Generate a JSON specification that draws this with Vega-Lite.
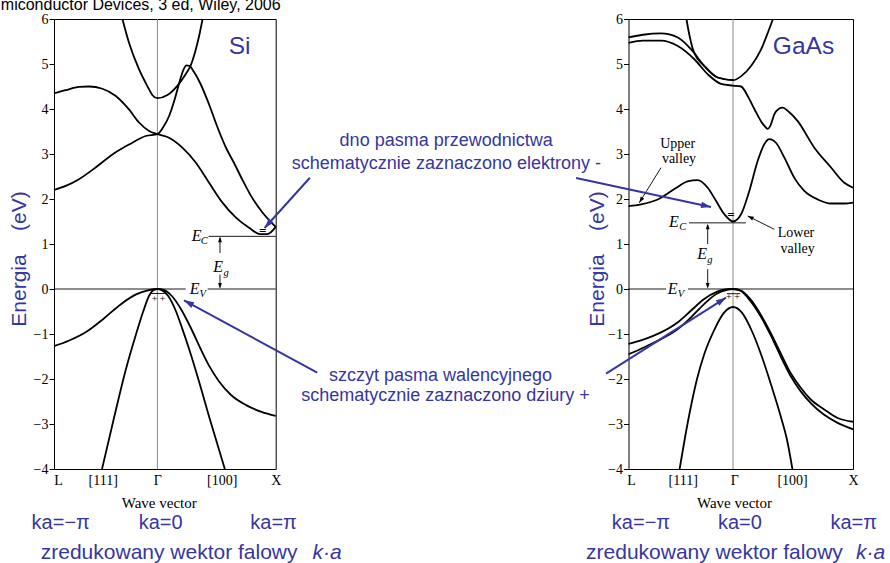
{
 "$schema": "https://vega.github.io/schema/vega-lite/v6.json",
 "background": "white",
 "padding": {"left": 0, "top": -4, "right": 0, "bottom": 0},
 "bounds": "flush",
 "spacing": 352.5,
 "config": {
  "view": {"stroke": "black", "strokeWidth": 1},
  "axis": {"grid": false, "domain": false, "labelColor": "black", "titleColor": "black", "labelFont": "Liberation Serif", "titleFont": "Liberation Serif", "titleFontWeight": "normal", "labelFlush": false, "labelOverlap": false}
 },
 "datasets": {
  "siBands": [
   {"b":"C1","k":-0.296,"E":6.0},{"b":"C1","k":-0.24,"E":5.47},{"b":"C1","k":-0.155,"E":4.88},{"b":"C1","k":-0.085,"E":4.51},{"b":"C1","k":-0.04,"E":4.3},{"b":"C1","k":0,"E":4.24},{"b":"C1","k":0.085,"E":4.31},{"b":"C1","k":0.17,"E":4.52},{"b":"C1","k":0.24,"E":4.78},{"b":"C1","k":0.28,"E":4.96},{"b":"C1","k":0.32,"E":5.28},{"b":"C1","k":0.355,"E":5.65},{"b":"C1","k":0.382,"E":6.0},
   {"b":"A","k":-0.874,"E":4.35},{"b":"A","k":-0.775,"E":4.42},{"b":"A","k":-0.663,"E":4.49},{"b":"A","k":-0.578,"E":4.5},{"b":"A","k":-0.465,"E":4.45},{"b":"A","k":-0.352,"E":4.29},{"b":"A","k":-0.24,"E":3.99},{"b":"A","k":-0.155,"E":3.7},{"b":"A","k":-0.07,"E":3.51},{"b":"A","k":0,"E":3.44},{"b":"A","k":0.098,"E":3.36},{"b":"A","k":0.211,"E":3.14},{"b":"A","k":0.324,"E":2.81},{"b":"A","k":0.437,"E":2.36},{"b":"A","k":0.55,"E":1.92},{"b":"A","k":0.662,"E":1.59},{"b":"A","k":0.775,"E":1.36},{"b":"A","k":0.87,"E":1.22},{"b":"A","k":0.93,"E":1.22},{"b":"A","k":1.0,"E":1.38},
   {"b":"B","k":-0.874,"E":2.2},{"b":"B","k":-0.775,"E":2.29},{"b":"B","k":-0.663,"E":2.44},{"b":"B","k":-0.522,"E":2.7},{"b":"B","k":-0.38,"E":2.99},{"b":"B","k":-0.24,"E":3.21},{"b":"B","k":-0.099,"E":3.4},{"b":"B","k":0,"E":3.44},{"b":"B","k":0.05,"E":3.6},{"b":"B","k":0.1,"E":3.85},{"b":"B","k":0.15,"E":4.25},{"b":"B","k":0.19,"E":4.63},{"b":"B","k":0.22,"E":4.87},{"b":"B","k":0.245,"E":4.97},{"b":"B","k":0.27,"E":4.96},{"b":"B","k":0.31,"E":4.82},{"b":"B","k":0.366,"E":4.55},{"b":"B","k":0.437,"E":4.1},{"b":"B","k":0.507,"E":3.6},{"b":"B","k":0.578,"E":3.15},{"b":"B","k":0.648,"E":2.8},{"b":"B","k":0.72,"E":2.42},{"b":"B","k":0.789,"E":2.08},{"b":"B","k":0.888,"E":1.7},{"b":"B","k":1.0,"E":1.38},
   {"b":"V1","k":-0.874,"E":-1.27},{"b":"V1","k":-0.75,"E":-1.15},{"b":"V1","k":-0.6,"E":-0.95},{"b":"V1","k":-0.45,"E":-0.65},{"b":"V1","k":-0.3,"E":-0.32},{"b":"V1","k":-0.18,"E":-0.12},{"b":"V1","k":-0.08,"E":-0.03},{"b":"V1","k":0,"E":0},{"b":"V1","k":0.04,"E":-0.01},{"b":"V1","k":0.12,"E":-0.15},{"b":"V1","k":0.2,"E":-0.45},{"b":"V1","k":0.28,"E":-0.85},{"b":"V1","k":0.36,"E":-1.3},{"b":"V1","k":0.44,"E":-1.72},{"b":"V1","k":0.52,"E":-2.05},{"b":"V1","k":0.62,"E":-2.35},{"b":"V1","k":0.75,"E":-2.58},{"b":"V1","k":0.88,"E":-2.73},{"b":"V1","k":1.0,"E":-2.82},
   {"b":"V2","k":-0.468,"E":-4.0},{"b":"V2","k":-0.37,"E":-2.9},{"b":"V2","k":-0.27,"E":-1.82},{"b":"V2","k":-0.18,"E":-1.0},{"b":"V2","k":-0.12,"E":-0.5},{"b":"V2","k":-0.07,"E":-0.15},{"b":"V2","k":-0.03,"E":-0.02},{"b":"V2","k":0,"E":0},{"b":"V2","k":0.04,"E":-0.03},{"b":"V2","k":0.09,"E":-0.15},{"b":"V2","k":0.15,"E":-0.45},{"b":"V2","k":0.21,"E":-0.88},{"b":"V2","k":0.27,"E":-1.35},{"b":"V2","k":0.34,"E":-1.95},{"b":"V2","k":0.45,"E":-2.95},{"b":"V2","k":0.57,"E":-4.0}
  ],
  "gaBands": [
   {"b":"C1","k":-0.871,"E":1.84},{"b":"C1","k":-0.767,"E":1.88},{"b":"C1","k":-0.628,"E":1.99},{"b":"C1","k":-0.489,"E":2.22},{"b":"C1","k":-0.378,"E":2.39},{"b":"C1","k":-0.294,"E":2.42},{"b":"C1","k":-0.211,"E":2.25},{"b":"C1","k":-0.142,"E":1.96},{"b":"C1","k":-0.072,"E":1.66},{"b":"C1","k":0,"E":1.5},{"b":"C1","k":0.067,"E":1.66},{"b":"C1","k":0.136,"E":2.18},{"b":"C1","k":0.206,"E":2.85},{"b":"C1","k":0.261,"E":3.22},{"b":"C1","k":0.303,"E":3.33},{"b":"C1","k":0.358,"E":3.25},{"b":"C1","k":0.428,"E":2.92},{"b":"C1","k":0.511,"E":2.47},{"b":"C1","k":0.594,"E":2.18},{"b":"C1","k":0.706,"E":1.99},{"b":"C1","k":0.817,"E":1.9},{"b":"C1","k":0.928,"E":1.9},{"b":"C1","k":1.0,"E":1.92},
   {"b":"C2","k":-0.871,"E":5.47},{"b":"C2","k":-0.75,"E":5.52},{"b":"C2","k":-0.6,"E":5.52},{"b":"C2","k":-0.46,"E":5.4},{"b":"C2","k":-0.32,"E":5.1},{"b":"C2","k":-0.21,"E":4.77},{"b":"C2","k":-0.1,"E":4.56},{"b":"C2","k":0,"E":4.52},{"b":"C2","k":0.067,"E":4.5},{"b":"C2","k":0.122,"E":4.29},{"b":"C2","k":0.178,"E":4.0},{"b":"C2","k":0.233,"E":3.73},{"b":"C2","k":0.27,"E":3.6},{"b":"C2","k":0.289,"E":3.56},{"b":"C2","k":0.31,"E":3.62},{"b":"C2","k":0.344,"E":3.88},{"b":"C2","k":0.38,"E":4.0},{"b":"C2","k":0.414,"E":4.03},{"b":"C2","k":0.46,"E":3.95},{"b":"C2","k":0.539,"E":3.73},{"b":"C2","k":0.678,"E":3.14},{"b":"C2","k":0.817,"E":2.7},{"b":"C2","k":0.928,"E":2.36},{"b":"C2","k":1.0,"E":2.25},
   {"b":"C3","k":-0.871,"E":5.59},{"b":"C3","k":-0.75,"E":5.65},{"b":"C3","k":-0.6,"E":5.68},{"b":"C3","k":-0.46,"E":5.59},{"b":"C3","k":-0.35,"E":5.33},{"b":"C3","k":-0.24,"E":4.96},{"b":"C3","k":-0.128,"E":4.7},{"b":"C3","k":0,"E":4.64},
   {"b":"C4","k":-0.388,"E":6.0},{"b":"C4","k":-0.375,"E":5.8},{"b":"C4","k":-0.36,"E":5.6},{"b":"C4","k":-0.34,"E":5.38},{"b":"C4","k":-0.32,"E":5.23},{"b":"C4","k":-0.24,"E":4.96},{"b":"C4","k":-0.128,"E":4.7},{"b":"C4","k":0,"E":4.64},{"b":"C4","k":0.069,"E":4.73},{"b":"C4","k":0.152,"E":4.96},{"b":"C4","k":0.235,"E":5.33},{"b":"C4","k":0.291,"E":5.7},{"b":"C4","k":0.333,"E":6.0},
   {"b":"V1","k":-0.871,"E":-1.22},{"b":"V1","k":-0.743,"E":-1.12},{"b":"V1","k":-0.604,"E":-0.97},{"b":"V1","k":-0.465,"E":-0.75},{"b":"V1","k":-0.354,"E":-0.49},{"b":"V1","k":-0.243,"E":-0.23},{"b":"V1","k":-0.132,"E":-0.06},{"b":"V1","k":-0.049,"E":-0.005},{"b":"V1","k":0,"E":0},{"b":"V1","k":0.062,"E":-0.03},{"b":"V1","k":0.146,"E":-0.23},{"b":"V1","k":0.229,"E":-0.56},{"b":"V1","k":0.313,"E":-0.97},{"b":"V1","k":0.396,"E":-1.42},{"b":"V1","k":0.479,"E":-1.86},{"b":"V1","k":0.563,"E":-2.19},{"b":"V1","k":0.646,"E":-2.45},{"b":"V1","k":0.757,"E":-2.67},{"b":"V1","k":0.868,"E":-2.86},{"b":"V1","k":1.0,"E":-2.95},
   {"b":"V2","k":-0.871,"E":-1.45},{"b":"V2","k":-0.743,"E":-1.3},{"b":"V2","k":-0.604,"E":-1.12},{"b":"V2","k":-0.465,"E":-0.9},{"b":"V2","k":-0.354,"E":-0.64},{"b":"V2","k":-0.243,"E":-0.34},{"b":"V2","k":-0.132,"E":-0.1},{"b":"V2","k":-0.049,"E":-0.02},{"b":"V2","k":0,"E":0},{"b":"V2","k":0.062,"E":-0.04},{"b":"V2","k":0.146,"E":-0.27},{"b":"V2","k":0.229,"E":-0.6},{"b":"V2","k":0.313,"E":-1.02},{"b":"V2","k":0.396,"E":-1.49},{"b":"V2","k":0.479,"E":-1.93},{"b":"V2","k":0.563,"E":-2.27},{"b":"V2","k":0.646,"E":-2.53},{"b":"V2","k":0.757,"E":-2.79},{"b":"V2","k":0.868,"E":-2.97},{"b":"V2","k":1.0,"E":-3.12},
   {"b":"V3","k":-0.445,"E":-4.0},{"b":"V3","k":-0.4,"E":-3.3},{"b":"V3","k":-0.35,"E":-2.6},{"b":"V3","k":-0.3,"E":-2.0},{"b":"V3","k":-0.24,"E":-1.45},{"b":"V3","k":-0.16,"E":-0.93},{"b":"V3","k":-0.076,"E":-0.53},{"b":"V3","k":0,"E":-0.4},{"b":"V3","k":0.076,"E":-0.53},{"b":"V3","k":0.16,"E":-0.95},{"b":"V3","k":0.24,"E":-1.5},{"b":"V3","k":0.32,"E":-2.15},{"b":"V3","k":0.4,"E":-2.85},{"b":"V3","k":0.45,"E":-3.35},{"b":"V3","k":0.495,"E":-4.0}
  ],
  "siRule": [
   {"g":"gam","id":"g","k":0,"E":-4,"k2":0,"E2":6},
   {"g":"lvl","id":"ev1","k":-0.874,"E":0,"k2":0.239,"E2":0},
   {"g":"lvl","id":"ev2","k":0.425,"E":0,"k2":1,"E2":0},
   {"g":"lvl","id":"ec","k":0.433,"E":1.17,"k2":1,"E2":1.17},
   {"g":"lvl","id":"eg1","k":0.529,"E":0.8,"k2":0.529,"E2":1.14},
   {"g":"lvl","id":"eg2","k":0.529,"E":0.32,"k2":0.529,"E2":0.03},
   {"g":"lvl","id":"h","k":-0.055,"E":-0.1,"k2":0.06,"E2":-0.1}
  ],
  "siArrow": [
   {"id":"a1","k":1.289,"E":2.473,"k2":0.906,"E2":1.356},
   {"id":"a3","k":1.351,"E":-1.86,"k2":0.225,"E2":-0.251}
  ],
  "siTip": [{"d":"up","k":0.529,"E":1.16},{"d":"down","k":0.529,"E":0.01}],
  "siText": [
   {"g":"src","t":"miconductor Devices, 3 ed, Wiley, 2006","k":-1.3235,"E":6.2},
   {"g":"name","t":"Si","k":0.695,"E":5.222},
   {"g":"note","t":"dno pasma przewodnictwa","k":2.441,"E":3.289},
   {"g":"note","t":"schematycznie zaznaczono elektrony -","k":2.443,"E":2.771},
   {"g":"note","t":"szczyt pasma walencyjnego","k":2.393,"E":-1.933},
   {"g":"note","t":"schematycznie zaznaczono dziury +","k":2.435,"E":-2.378},
   {"g":"ka","t":"ka=−π","k":-0.817,"E":-5.193},
   {"g":"ka","t":"ka=0","k":0.028,"E":-5.193},
   {"g":"ka","t":"ka=π","k":0.982,"E":-5.193},
   {"g":"red","t":"zredukowany wektor falowy","k":-0.986,"E":-5.86},
   {"g":"redi","t":"k·a","k":1.312,"E":-5.86},
   {"g":"E","t":"E","k":0.332,"E":1.067},
   {"g":"sub","t":"C","k":0.395,"E":1.0},
   {"g":"E","t":"E","k":0.315,"E":-0.1},
   {"g":"sub","t":"V","k":0.383,"E":-0.167},
   {"g":"E","t":"E","k":0.514,"E":0.367},
   {"g":"sub","t":"g","k":0.581,"E":0.289},
   {"g":"sym","t":"+ +","k":0.01,"E":-0.222},
   {"g":"el","t":"=","k":0.89,"E":1.3}
  ],
  "gaRule": [
   {"g":"gam","id":"g","k":0,"E":-4,"k2":0,"E2":6},
   {"g":"lvl","id":"ev1","k":-0.871,"E":0,"k2":-0.558,"E2":0},
   {"g":"lvl","id":"ev2","k":-0.375,"E":0,"k2":1,"E2":0},
   {"g":"lvl","id":"ec","k":-0.367,"E":1.47,"k2":0.108,"E2":1.47},
   {"g":"lvl","id":"eg1","k":-0.211,"E":1.0,"k2":-0.211,"E2":1.42},
   {"g":"lvl","id":"eg2","k":-0.211,"E":0.44,"k2":-0.211,"E2":0.04},
   {"g":"lvl","id":"h","k":-0.05,"E":-0.104,"k2":0.06,"E2":-0.104},
   {"g":"lvl","id":"uv","k":-0.6,"E":2.696,"k2":-0.781,"E2":1.918},
   {"g":"lvl","id":"lv","k":0.344,"E":1.327,"k2":0.1225,"E2":1.622}
  ],
  "gaArrow": [
   {"id":"a2","k":-1.308,"E":2.467,"k2":-0.183,"E2":1.822},
   {"id":"a4","k":-1.058,"E":-1.882,"k2":-0.058,"E2":-0.193}
  ],
  "gaTip": [{"d":"up","k":-0.211,"E":1.45},{"d":"down","k":-0.211,"E":0.01}],
  "gaText": [
   {"g":"name","t":"GaAs","k":0.5875,"E":5.222},
   {"g":"ka","t":"ka=−π","k":-0.767,"E":-5.193},
   {"g":"ka","t":"ka=0","k":0.058,"E":-5.193},
   {"g":"ka","t":"ka=π","k":1.006,"E":-5.193},
   {"g":"red","t":"zredukowany wektor falowy","k":-1.225,"E":-5.86},
   {"g":"redi","t":"k·a","k":1.025,"E":-5.86},
   {"g":"E","t":"E","k":-0.493,"E":1.378},
   {"g":"sub","t":"C","k":-0.419,"E":1.311},
   {"g":"E","t":"E","k":-0.504,"E":-0.104},
   {"g":"sub","t":"V","k":-0.433,"E":-0.178},
   {"g":"E","t":"E","k":-0.258,"E":0.659},
   {"g":"sub","t":"g","k":-0.192,"E":0.578},
   {"g":"val","t":"Upper","k":-0.461,"E":3.222},
   {"g":"val","t":"valley","k":-0.45,"E":2.889},
   {"g":"val","t":"Lower","k":0.525,"E":1.251},
   {"g":"val","t":"valley","k":0.539,"E":0.882},
   {"g":"sym","t":"+ +","k":0.0,"E":-0.18},
   {"g":"el","t":"=","k":-0.017,"E":1.64}
  ]
 },
 "hconcat": [
  {
   "width": 221.7,
   "height": 450,
   "encoding": {
    "x": {"field": "k", "type": "quantitative", "scale": {"domain": [-0.874, 1], "nice": false, "zero": false},
     "axis": {"values": [-0.84, -0.462, 0, 0.543, 1.0], "labelExpr": "datum.value < -0.6 ? 'L' : datum.value < -0.2 ? '[111]' : datum.value < 0.2 ? 'Γ' : datum.value < 0.8 ? '[100]' : 'X'", "ticks": false, "labelFontSize": 14, "labelPadding": 4, "title": "Wave vector", "titleFontSize": 15, "titleX": 104.7, "titleY": 38, "titleBaseline": "alphabetic"}},
    "y": {"field": "E", "type": "quantitative", "scale": {"domain": [-4, 6], "nice": false, "zero": false},
     "axis": {"values": [-4, -3, -2, -1, 0, 1, 2, 3, 4, 5, 6], "tickSize": 5, "tickColor": "black", "labelFontSize": 14, "labelPadding": 1, "title": "Energia\u00a0\u00a0\u00a0\u00a0(eV)", "titleFont": "Liberation Sans", "titleFontSize": 21, "titleColor": "#3636a3", "titleX": -34.8, "titleY": 239.5, "titleBaseline": "middle", "titleAngle": -90}}
   },
   "layer": [
    {"data": {"name": "siRule"}, "transform": [{"filter": "datum.g == 'gam'"}], "mark": {"type": "rule", "color": "#8a8a8a", "strokeWidth": 1}, "encoding": {"x2": {"field": "k2"}, "y2": {"field": "E2"}}},
    {"data": {"name": "siRule"}, "transform": [{"filter": "datum.g == 'lvl'"}], "mark": {"type": "rule", "color": "black", "strokeWidth": 0.9}, "encoding": {"x2": {"field": "k2"}, "y2": {"field": "E2"}}},
    {"data": {"name": "siBands"}, "mark": {"type": "line", "color": "black", "strokeWidth": 1.8, "interpolate": "monotone"}, "encoding": {"detail": {"field": "b"}}},
    {"data": {"name": "siText"}, "transform": [{"filter": "datum.g == 'src'"}], "mark": {"type": "text", "align": "left", "baseline": "alphabetic", "font": "Liberation Sans", "fontSize": 16, "color": "black"}, "encoding": {"text": {"field": "t"}}},
    {"data": {"name": "siText"}, "transform": [{"filter": "datum.g == 'name'"}], "mark": {"type": "text", "align": "center", "baseline": "alphabetic", "font": "Liberation Sans", "fontSize": 24.5, "color": "#3636a3"}, "encoding": {"text": {"field": "t"}}},
    {"data": {"name": "siText"}, "transform": [{"filter": "datum.g == 'note'"}], "mark": {"type": "text", "align": "center", "baseline": "middle", "font": "Liberation Sans", "fontSize": 18, "color": "#3636a3"}, "encoding": {"text": {"field": "t"}}},
    {"data": {"name": "siText"}, "transform": [{"filter": "datum.g == 'ka'"}], "mark": {"type": "text", "align": "center", "baseline": "middle", "font": "Liberation Sans", "fontSize": 20, "color": "#3636a3"}, "encoding": {"text": {"field": "t"}}},
    {"data": {"name": "siText"}, "transform": [{"filter": "datum.g == 'red'"}], "mark": {"type": "text", "align": "left", "baseline": "middle", "font": "Liberation Sans", "fontSize": 21, "color": "#3636a3"}, "encoding": {"text": {"field": "t"}}},
    {"data": {"name": "siText"}, "transform": [{"filter": "datum.g == 'redi'"}], "mark": {"type": "text", "align": "left", "baseline": "middle", "font": "Liberation Sans", "fontSize": 21, "fontStyle": "italic", "color": "#3636a3"}, "encoding": {"text": {"field": "t"}}},
    {"data": {"name": "siText"}, "transform": [{"filter": "datum.g == 'E'"}], "mark": {"type": "text", "align": "center", "baseline": "alphabetic", "font": "Liberation Serif", "fontSize": 16, "fontStyle": "italic", "color": "black"}, "encoding": {"text": {"field": "t"}}},
    {"data": {"name": "siText"}, "transform": [{"filter": "datum.g == 'sub'"}], "mark": {"type": "text", "align": "center", "baseline": "alphabetic", "font": "Liberation Serif", "fontSize": 10.5, "fontStyle": "italic", "color": "black"}, "encoding": {"text": {"field": "t"}}},
    {"data": {"name": "siText"}, "transform": [{"filter": "datum.g == 'sym'"}], "mark": {"type": "text", "align": "center", "baseline": "middle", "font": "Liberation Serif", "fontSize": 10, "color": "black"}, "encoding": {"text": {"field": "t"}}},
    {"data": {"name": "siText"}, "transform": [{"filter": "datum.g == 'el'"}], "mark": {"type": "text", "align": "center", "baseline": "middle", "font": "Liberation Serif", "fontSize": 13, "fontWeight": "bold", "color": "black"}, "encoding": {"text": {"field": "t"}}},
    {"data": {"name": "siTip"}, "transform": [{"filter": "datum.d == 'up'"}], "mark": {"type": "point", "shape": "M0,0L-0.7,2L0.7,2Z", "size": 30, "filled": true, "opacity": 1, "color": "black", "angle": 0}},
    {"data": {"name": "siTip"}, "transform": [{"filter": "datum.d == 'down'"}], "mark": {"type": "point", "shape": "M0,0L-0.7,2L0.7,2Z", "size": 30, "filled": true, "opacity": 1, "color": "black", "angle": 180}},
    {"data": {"name": "siArrow"}, "mark": {"type": "rule", "color": "#3636a3", "strokeWidth": 2}, "encoding": {"x2": {"field": "k2"}, "y2": {"field": "E2"}}},
    {"data": {"name": "siArrow"}, "transform": [{"filter": "datum.id == 'a1'"}], "mark": {"type": "point", "shape": "M0,0L-0.65,2L0.65,2Z", "size": 100, "filled": true, "opacity": 1, "color": "#3636a3", "angle": 222}, "encoding": {"x": {"field": "k2", "type": "quantitative"}, "y": {"field": "E2", "type": "quantitative"}}},
    {"data": {"name": "siArrow"}, "transform": [{"filter": "datum.id == 'a3'"}], "mark": {"type": "point", "shape": "M0,0L-0.65,2L0.65,2Z", "size": 100, "filled": true, "opacity": 1, "color": "#3636a3", "angle": 298.5}, "encoding": {"x": {"field": "k2", "type": "quantitative"}, "y": {"field": "E2", "type": "quantitative"}}}
   ]
  },
  {
   "width": 224.5,
   "height": 450,
   "encoding": {
    "x": {"field": "k", "type": "quantitative", "scale": {"domain": [-0.871, 1], "nice": false, "zero": false},
     "axis": {"values": [-0.85, -0.419, 0.01, 0.492, 1.0], "labelExpr": "datum.value < -0.6 ? 'L' : datum.value < -0.2 ? '[111]' : datum.value < 0.2 ? 'Γ' : datum.value < 0.8 ? '[100]' : 'X'", "ticks": false, "labelFontSize": 14, "labelPadding": 4, "title": "Wave vector", "titleFontSize": 15, "titleX": 105.5, "titleY": 38, "titleBaseline": "alphabetic"}},
    "y": {"field": "E", "type": "quantitative", "scale": {"domain": [-4, 6], "nice": false, "zero": false},
     "axis": {"values": [-4, -3, -2, -1, 0, 1, 2, 3, 4, 5, 6], "tickSize": 5, "tickColor": "black", "labelFontSize": 14, "labelPadding": 1, "title": "Energia\u00a0\u00a0\u00a0\u00a0(eV)", "titleFont": "Liberation Sans", "titleFontSize": 21, "titleColor": "#3636a3", "titleX": -31, "titleY": 239.5, "titleBaseline": "middle", "titleAngle": -90}}
   },
   "layer": [
    {"data": {"name": "gaRule"}, "transform": [{"filter": "datum.g == 'gam'"}], "mark": {"type": "rule", "color": "#8a8a8a", "strokeWidth": 1}, "encoding": {"x2": {"field": "k2"}, "y2": {"field": "E2"}}},
    {"data": {"name": "gaRule"}, "transform": [{"filter": "datum.g == 'lvl'"}], "mark": {"type": "rule", "color": "black", "strokeWidth": 0.9}, "encoding": {"x2": {"field": "k2"}, "y2": {"field": "E2"}}},
    {"data": {"name": "gaBands"}, "mark": {"type": "line", "color": "black", "strokeWidth": 1.8, "interpolate": "monotone"}, "encoding": {"detail": {"field": "b"}}},
    {"data": {"name": "gaText"}, "transform": [{"filter": "datum.g == 'name'"}], "mark": {"type": "text", "align": "center", "baseline": "alphabetic", "font": "Liberation Sans", "fontSize": 24.5, "color": "#3636a3"}, "encoding": {"text": {"field": "t"}}},
    {"data": {"name": "gaText"}, "transform": [{"filter": "datum.g == 'ka'"}], "mark": {"type": "text", "align": "center", "baseline": "middle", "font": "Liberation Sans", "fontSize": 20, "color": "#3636a3"}, "encoding": {"text": {"field": "t"}}},
    {"data": {"name": "gaText"}, "transform": [{"filter": "datum.g == 'red'"}], "mark": {"type": "text", "align": "left", "baseline": "middle", "font": "Liberation Sans", "fontSize": 21, "color": "#3636a3"}, "encoding": {"text": {"field": "t"}}},
    {"data": {"name": "gaText"}, "transform": [{"filter": "datum.g == 'redi'"}], "mark": {"type": "text", "align": "left", "baseline": "middle", "font": "Liberation Sans", "fontSize": 21, "fontStyle": "italic", "color": "#3636a3"}, "encoding": {"text": {"field": "t"}}},
    {"data": {"name": "gaText"}, "transform": [{"filter": "datum.g == 'E'"}], "mark": {"type": "text", "align": "center", "baseline": "alphabetic", "font": "Liberation Serif", "fontSize": 16, "fontStyle": "italic", "color": "black"}, "encoding": {"text": {"field": "t"}}},
    {"data": {"name": "gaText"}, "transform": [{"filter": "datum.g == 'sub'"}], "mark": {"type": "text", "align": "center", "baseline": "alphabetic", "font": "Liberation Serif", "fontSize": 10.5, "fontStyle": "italic", "color": "black"}, "encoding": {"text": {"field": "t"}}},
    {"data": {"name": "gaText"}, "transform": [{"filter": "datum.g == 'val'"}], "mark": {"type": "text", "align": "center", "baseline": "middle", "font": "Liberation Serif", "fontSize": 14, "color": "black"}, "encoding": {"text": {"field": "t"}}},
    {"data": {"name": "gaText"}, "transform": [{"filter": "datum.g == 'sym'"}], "mark": {"type": "text", "align": "center", "baseline": "middle", "font": "Liberation Serif", "fontSize": 10, "color": "black"}, "encoding": {"text": {"field": "t"}}},
    {"data": {"name": "gaText"}, "transform": [{"filter": "datum.g == 'el'"}], "mark": {"type": "text", "align": "center", "baseline": "middle", "font": "Liberation Serif", "fontSize": 13, "fontWeight": "bold", "color": "black"}, "encoding": {"text": {"field": "t"}}},
    {"data": {"name": "gaTip"}, "transform": [{"filter": "datum.d == 'up'"}], "mark": {"type": "point", "shape": "M0,0L-0.7,2L0.7,2Z", "size": 30, "filled": true, "opacity": 1, "color": "black", "angle": 0}},
    {"data": {"name": "gaTip"}, "transform": [{"filter": "datum.d == 'down'"}], "mark": {"type": "point", "shape": "M0,0L-0.7,2L0.7,2Z", "size": 30, "filled": true, "opacity": 1, "color": "black", "angle": 180}},
    {"data": {"name": "gaRule"}, "transform": [{"filter": "datum.id == 'uv'"}], "mark": {"type": "point", "shape": "M0,0L-0.7,2L0.7,2Z", "size": 36, "filled": true, "opacity": 1, "color": "black", "angle": 211.8}, "encoding": {"x": {"field": "k2", "type": "quantitative"}, "y": {"field": "E2", "type": "quantitative"}}},
    {"data": {"name": "gaRule"}, "transform": [{"filter": "datum.id == 'lv'"}], "mark": {"type": "point", "shape": "M0,0L-0.7,2L0.7,2Z", "size": 36, "filled": true, "opacity": 1, "color": "black", "angle": 296.6}, "encoding": {"x": {"field": "k2", "type": "quantitative"}, "y": {"field": "E2", "type": "quantitative"}}},
    {"data": {"name": "gaArrow"}, "mark": {"type": "rule", "color": "#3636a3", "strokeWidth": 2}, "encoding": {"x2": {"field": "k2"}, "y2": {"field": "E2"}}},
    {"data": {"name": "gaArrow"}, "transform": [{"filter": "datum.id == 'a2'"}], "mark": {"type": "point", "shape": "M0,0L-0.65,2L0.65,2Z", "size": 100, "filled": true, "opacity": 1, "color": "#3636a3", "angle": 102.1}, "encoding": {"x": {"field": "k2", "type": "quantitative"}, "y": {"field": "E2", "type": "quantitative"}}},
    {"data": {"name": "gaArrow"}, "transform": [{"filter": "datum.id == 'a4'"}], "mark": {"type": "point", "shape": "M0,0L-0.65,2L0.65,2Z", "size": 100, "filled": true, "opacity": 1, "color": "#3636a3", "angle": 57.7}, "encoding": {"x": {"field": "k2", "type": "quantitative"}, "y": {"field": "E2", "type": "quantitative"}}}
   ]
  }
 ]
}
